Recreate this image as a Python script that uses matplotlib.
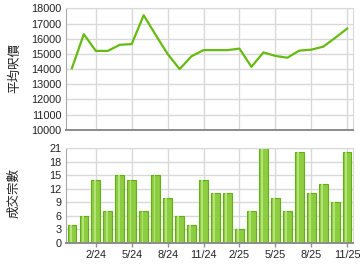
import matplotlib
matplotlib.use('Agg')
import matplotlib.pyplot as plt
import numpy as np

months = ['12/23', '1/24', '2/24', '3/24', '4/24', '5/24', '6/24', '7/24', '8/24', '9/24',
          '10/24', '11/24', '12/24', '1/25', '2/25', '3/25', '4/25', '5/25', '6/25', '7/25',
          '8/25', '9/25', '10/25', '11/25']
avg_price = [14050, 16300, 15200, 15200, 15600, 15650, 17550, 16250, 15000, 14000,
             14850, 15250, 15250, 15250, 15350, 14150, 15100, 14870, 14750, 15220,
             15280, 15480, 16060, 16670]
deals = [4, 6, 14, 7, 15, 14, 7, 15, 10, 6, 4, 14, 11, 11, 3, 7, 21, 10, 7, 20, 11, 13, 9, 20]
tick_labels = ['2/24', '5/24', '8/24', '11/24', '2/25', '5/25', '8/25', '11/25']

plt.rcParams['font.family'] = ['Liberation Sans', 'DejaVu Sans']
cjk = ['Noto Sans CJK TC', 'DejaVu Sans']
grid_c = '#d9d9d9'
x = np.arange(len(months))
tick_pos = [months.index(t) for t in tick_labels]

fig = plt.figure(figsize=(3.6, 2.7), dpi=100)
ax1 = fig.add_axes([0.183, 0.519, 0.798, 0.450])
ax2 = fig.add_axes([0.183, 0.100, 0.798, 0.352])

for ax in (ax1, ax2):
    ax.set_xlim(-0.5, len(months) - 0.5)
    ax.set_xticks(tick_pos)
    ax.grid(True, color=grid_c, linewidth=1)
    ax.set_axisbelow(True)
    for s in ('top', 'right'):
        ax.spines[s].set_color(grid_c)
    ax.spines['left'].set_color('#a8a8a8')
    ax.spines['bottom'].set_color('#8c8c8c')
    ax.spines['bottom'].set_linewidth(1.4)
    ax.tick_params(axis='y', length=0, labelsize=7.8, colors='#222222', pad=3)
    ax.tick_params(axis='x', length=3, width=1, color='#909090', labelsize=7.8,
                   labelcolor='#222222', pad=2)

# average price line
ax1.plot(x, avg_price, color='#66bb11', linewidth=1.6)
ax1.set_ylim(10000, 18000)
ax1.set_yticks(np.arange(10000, 18001, 1000))
ax1.tick_params(axis='x', length=0, labelbottom=False)

# deals bars
ax2.bar(x, deals, width=0.72, color='#8dcd40', edgecolor='#62b015', linewidth=0.8)
ax2.bar(x - 0.1, deals, width=0.16, color='#b4e37a', linewidth=0)
ax2.set_ylim(0, 21)
ax2.set_yticks(np.arange(0, 22, 3))
ax2.set_xticklabels(tick_labels)

fig.text(0.04, 0.748, '平均呎價', family=cjk, fontsize=9, rotation=90,
         ha='center', va='center', color='#222222')
fig.text(0.04, 0.285, '成交宗數', family=cjk, fontsize=9, rotation=90,
         ha='center', va='center', color='#222222')

fig.savefig('out.png', dpi=100)
